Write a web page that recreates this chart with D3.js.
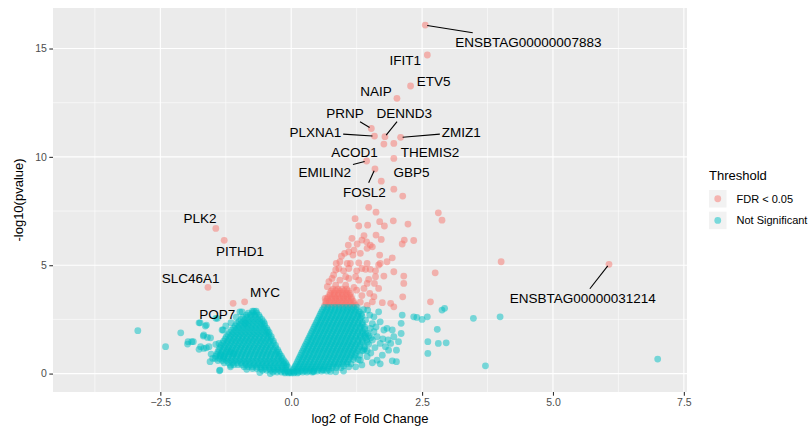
<!DOCTYPE html>
<html>
<head>
<meta charset="utf-8">
<script src="https://cdn.jsdelivr.net/npm/d3@7"></script>
<style>
  body { margin: 0; background: #fff; }
  svg { font-family: "Liberation Sans", Arial, sans-serif; }
</style>
</head>
<body>
<div id="chart"></div>
<script>
// ---- data (log2 fold change, -log10 p) ----
const xTicks = [-2.5, 0, 2.5, 5, 7.5];
const xMinor = [-3.75, -1.25, 1.25, 3.75, 6.25];
const yTicks = [0, 5, 10, 15];
const yMinor = [2.5, 7.5, 12.5];
const groups = ['FDR < 0.05', 'Not Significant'];

// named genes: [name, log2FC, -log10p, significant]
const genes = [
  ['ENSBTAG00000007883', 2.56, 16.08, true],
  ['IFIT1', 2.60, 14.70, true],
  ['ETV5', 2.28, 13.27, true],
  ['NAIP', 2.02, 12.70, true],
  ['PRNP', 1.53, 11.31, true],
  ['DENND3', 1.79, 10.93, true],
  ['PLXNA1', 1.59, 10.96, true],
  ['ZMIZ1', 2.09, 10.90, true],
  ['ACOD1', 1.77, 10.59, true],
  ['THEMIS2', 1.96, 10.62, true],
  ['EMILIN2', 1.44, 9.81, true],
  ['GBP5', 1.96, 9.93, true],
  ['FOSL2', 1.60, 9.44, true],
  ['PLK2', -1.44, 6.70, true],
  ['PITHD1', -1.28, 6.15, true],
  ['SLC46A1', -1.59, 3.98, true],
  ['MYC', -0.89, 3.31, true],
  ['POP7', -0.94, 2.85, false],
  ['ENSBTAG00000031214', 6.07, 5.04, true]
];

// where the repelled labels ended up (data units) and whether a segment is drawn
const labelPos = {
  'ENSBTAG00000007883': [4.53, 15.31, true],
  'IFIT1': [2.18, 14.47, false],
  'ETV5': [2.72, 13.51, false],
  'NAIP': [1.62, 13.05, false],
  'PRNP': [1.03, 12.04, true],
  'DENND3': [2.16, 12.04, true],
  'PLXNA1': [0.46, 11.13, true],
  'ZMIZ1': [3.25, 11.13, true],
  'ACOD1': [1.21, 10.24, false],
  'THEMIS2': [2.65, 10.24, false],
  'EMILIN2': [0.64, 9.31, true],
  'GBP5': [2.30, 9.31, false],
  'FOSL2': [1.40, 8.39, true],
  'PLK2': [-1.74, 7.16, false],
  'PITHD1': [-0.98, 5.65, false],
  'SLC46A1': [-1.92, 4.39, false],
  'MYC': [-0.50, 3.75, false],
  'POP7': [-1.41, 2.73, false],
  'ENSBTAG00000031214': [5.57, 3.50, true]
};

// significant genes, scattered part
const sigScatter = [
  [1.72,8.88],[1.96,8.51],[2.13,8.19],[1.48,7.67],[1.62,7.45],[2.81,7.42],[2.88,7.08],
  [1.22,7.15],[1.29,6.81],[1.46,6.85],[1.69,7.01],[1.78,6.81],[1.95,7.05],[2.23,6.90],
  [1.39,6.37],[1.62,6.39],[1.72,6.19],[1.44,6.08],[1.09,5.93],[1.20,5.70],[1.26,5.98],
  [1.55,5.85],[2.12,5.98],[2.16,6.16],[2.34,6.14],[1.16,6.24],[1.35,6.16],[1.02,5.55],
  [1.32,5.55],[1.69,5.47],[1.93,5.34],[1.83,5.16],[0.93,5.16],[1.13,5.08],[1.29,5.11],
  [1.45,5.08],[1.67,5.01],[1.51,5.93],[1.45,5.78],[1.10,5.62],[0.96,5.42],[1.18,5.47],
  [0.86,5.08],[1.07,5.08],[1.70,5.08],[0.85,4.78],[1.00,4.74],[1.25,4.74],[1.42,4.81],
  [1.61,4.74],[1.96,4.70],[1.77,4.50],[2.15,4.50],[2.75,4.65],[0.91,4.85],[1.10,4.85],
  [1.35,4.85],[1.51,4.81],[0.81,4.55],[1.04,4.47],[1.23,4.47],[1.61,4.47],[0.78,4.39],
  [0.93,4.31],[1.10,4.39],[1.29,4.31],[1.48,4.35],[1.59,4.16],[0.72,4.24],[1.45,4.16],
  [2.15,4.16],[0.69,4.01],[0.85,4.08],[1.04,4.08],[1.20,3.98],[1.39,3.93],[1.67,3.93],
  [2.13,3.54],[2.66,3.31],[1.90,3.24],[1.74,3.27],[1.55,3.31],[1.96,3.08],[0.65,3.47],
  [1.32,3.30],[1.45,3.15],[1.35,3.60],[1.50,3.70],[1.25,3.85],[1.58,3.55],[4.01,5.16],
  [-1.11,3.24]
];

// significant genes, dense block just above the cut: [y, [x...]]
const sigRows = [
  [3.15, [0.64,0.71,0.79,0.86,0.93,1.01,1.08,1.16,1.23]],
  [3.24, [0.67,0.75,0.83,0.90,0.98,1.05,1.13,1.20]],
  [3.33, [0.66,0.73,0.81,0.88,0.96,1.03,1.11,1.19]],
  [3.43, [0.69,0.77,0.85,0.92,1.00,1.07,1.15]],
  [3.52, [0.70,0.78,0.85,0.93,1.00,1.08,1.15]],
  [3.62, [0.74,0.82,0.89,0.97,1.04,1.11]],
  [3.71, [0.74,0.82,0.90,0.98,1.06,1.13]],
  [3.81, [0.77,0.85,0.93,1.01,1.09]],
  [3.90, [0.80,0.89,0.97,1.06]]
];

// non-significant genes, dense right lobe: [y, [x...]]
const nsRightRows = [
  [3.05, [0.63,0.70,0.77,0.84,0.91,0.98,1.05,1.12,1.19,1.26]],
  [2.95, [0.60,0.68,0.76,0.84,0.92,1.00,1.08,1.16,1.24]],
  [2.85, [0.58,0.66,0.74,0.82,0.90,0.98,1.06,1.14,1.22,1.30]],
  [2.75, [0.56,0.64,0.72,0.80,0.88,0.96,1.04,1.12,1.20,1.28,1.34]],
  [2.65, [0.54,0.62,0.70,0.78,0.86,0.94,1.02,1.10,1.18,1.27,1.35]],
  [2.55, [0.52,0.60,0.68,0.76,0.84,0.92,1.00,1.08,1.16,1.24,1.32]],
  [2.45, [0.50,0.58,0.66,0.74,0.82,0.90,0.98,1.06,1.14,1.22,1.31]],
  [2.35, [0.48,0.56,0.64,0.72,0.80,0.88,0.96,1.04,1.12,1.20,1.28,1.36]],
  [2.25, [0.46,0.54,0.62,0.70,0.78,0.86,0.94,1.02,1.10,1.18,1.27,1.36]],
  [2.15, [0.44,0.52,0.60,0.68,0.76,0.84,0.92,1.00,1.08,1.16,1.24,1.32,1.40]],
  [2.05, [0.42,0.50,0.58,0.66,0.74,0.82,0.90,0.98,1.06,1.14,1.22,1.31,1.40]],
  [1.95, [0.40,0.48,0.56,0.64,0.72,0.80,0.88,0.96,1.04,1.12,1.20,1.28,1.36]],
  [1.85, [0.38,0.46,0.54,0.62,0.70,0.78,0.86,0.94,1.02,1.10,1.18,1.27,1.36,1.46]],
  [1.75, [0.36,0.44,0.52,0.60,0.68,0.76,0.84,0.92,1.00,1.08,1.16,1.24,1.32,1.40,1.48]],
  [1.65, [0.34,0.42,0.50,0.58,0.66,0.74,0.82,0.90,0.98,1.06,1.14,1.23,1.32,1.42,1.52]],
  [1.55, [0.32,0.40,0.48,0.56,0.64,0.72,0.80,0.88,0.96,1.04,1.12,1.20,1.28,1.36,1.44]],
  [1.45, [0.30,0.38,0.46,0.54,0.62,0.70,0.78,0.86,0.94,1.02,1.10,1.18,1.27,1.36,1.45]],
  [1.35, [0.28,0.36,0.44,0.52,0.60,0.68,0.76,0.84,0.92,1.00,1.08,1.16,1.24,1.32]],
  [1.25, [0.26,0.34,0.42,0.50,0.58,0.66,0.74,0.82,0.90,0.98,1.06,1.14,1.22,1.31,1.40]],
  [1.15, [0.24,0.32,0.40,0.48,0.56,0.64,0.72,0.80,0.88,0.96,1.04,1.12,1.20,1.28,1.40]],
  [1.05, [0.22,0.30,0.38,0.46,0.54,0.62,0.70,0.78,0.86,0.94,1.02,1.10,1.18,1.27,1.36,1.45]],
  [0.95, [0.20,0.28,0.36,0.44,0.52,0.60,0.68,0.76,0.84,0.92,1.00,1.08,1.16,1.24]],
  [0.85, [0.18,0.26,0.34,0.42,0.50,0.58,0.66,0.74,0.82,0.90,0.98,1.06,1.14,1.22,1.31]],
  [0.75, [0.16,0.24,0.32,0.40,0.48,0.56,0.64,0.72,0.80,0.88,0.96,1.04,1.12,1.20]],
  [0.65, [0.14,0.22,0.30,0.38,0.46,0.54,0.62,0.70,0.78,0.86,0.94,1.02,1.10,1.19,1.28]],
  [0.55, [0.12,0.20,0.28,0.36,0.44,0.52,0.60,0.68,0.76,0.84,0.92,1.00,1.08]],
  [0.45, [0.10,0.18,0.26,0.34,0.42,0.50,0.58,0.66,0.74,0.82,0.90,0.98,1.06,1.14]],
  [0.36, [0.08,0.16,0.24,0.32,0.40,0.48,0.56,0.64,0.72,0.80,0.88,1.00]],
  [0.27, [0.06,0.14,0.22,0.30,0.38,0.46,0.54,0.62,0.70,0.78,0.86,0.95]],
  [0.19, [0.04,0.12,0.20,0.28,0.36,0.44,0.52,0.60,0.72]],
  [0.12, [0.03,0.10,0.18,0.26,0.34,0.42,0.50,0.58,0.68]],
  [0.07, [-0.02,0.06,0.14,0.22,0.30,0.40]],
  [0.03, [-0.12,-0.05,0.00,0.05,0.12]]
];

// non-significant genes, dense left lobe
const nsLeftRows = [
  [2.88, [-0.74,-0.67]],
  [2.79, [-0.82,-0.74,-0.66]],
  [2.70, [-0.86,-0.78,-0.70,-0.62]],
  [2.60, [-0.92,-0.84,-0.76,-0.68,-0.60]],
  [2.50, [-0.96,-0.88,-0.80,-0.72,-0.64,-0.56]],
  [2.40, [-1.00,-0.92,-0.84,-0.76,-0.68,-0.60,-0.53]],
  [2.30, [-1.04,-0.96,-0.88,-0.80,-0.72,-0.64,-0.56,-0.51]],
  [2.20, [-1.07,-0.99,-0.91,-0.83,-0.75,-0.67,-0.59,-0.51]],
  [2.10, [-1.10,-1.02,-0.94,-0.86,-0.78,-0.70,-0.62,-0.54,-0.47]],
  [2.00, [-1.14,-1.06,-0.98,-0.90,-0.82,-0.74,-0.66,-0.58,-0.50,-0.45]],
  [1.90, [-1.18,-1.10,-1.02,-0.94,-0.86,-0.78,-0.70,-0.62,-0.54,-0.46,-0.42]],
  [1.80, [-1.21,-1.13,-1.05,-0.97,-0.89,-0.81,-0.73,-0.65,-0.57,-0.49,-0.42]],
  [1.70, [-1.24,-1.16,-1.08,-1.00,-0.92,-0.84,-0.76,-0.68,-0.60,-0.52,-0.44,-0.38]],
  [1.60, [-1.26,-1.18,-1.10,-1.02,-0.94,-0.86,-0.78,-0.70,-0.62,-0.54,-0.46,-0.38]],
  [1.50, [-1.29,-1.21,-1.13,-1.05,-0.97,-0.89,-0.81,-0.73,-0.65,-0.57,-0.49,-0.41,-0.34]],
  [1.40, [-1.31,-1.23,-1.15,-1.07,-0.99,-0.91,-0.83,-0.75,-0.67,-0.59,-0.51,-0.43,-0.34]],
  [1.30, [-1.34,-1.26,-1.18,-1.10,-1.02,-0.94,-0.86,-0.78,-0.70,-0.62,-0.54,-0.46,-0.38,-0.30]],
  [1.20, [-1.36,-1.28,-1.20,-1.12,-1.04,-0.96,-0.88,-0.80,-0.72,-0.64,-0.56,-0.48,-0.40,-0.30]],
  [1.10, [-1.38,-1.30,-1.22,-1.14,-1.06,-0.98,-0.90,-0.82,-0.74,-0.66,-0.58,-0.50,-0.42,-0.34,-0.26]],
  [1.00, [-1.40,-1.32,-1.24,-1.16,-1.08,-1.00,-0.92,-0.84,-0.76,-0.68,-0.60,-0.52,-0.44,-0.36,-0.28,-0.24]],
  [0.90, [-1.42,-1.34,-1.26,-1.18,-1.10,-1.02,-0.94,-0.86,-0.78,-0.70,-0.62,-0.54,-0.46,-0.38,-0.30,-0.22]],
  [0.80, [-1.44,-1.36,-1.28,-1.20,-1.12,-1.04,-0.96,-0.88,-0.80,-0.72,-0.64,-0.56,-0.48,-0.40,-0.32,-0.24,-0.19]],
  [0.70, [-1.45,-1.37,-1.29,-1.21,-1.13,-1.05,-0.97,-0.89,-0.81,-0.73,-0.65,-0.57,-0.49,-0.41,-0.33,-0.25,-0.17]],
  [0.60, [-1.40,-1.32,-1.24,-1.16,-1.08,-1.00,-0.92,-0.84,-0.76,-0.68,-0.60,-0.52,-0.44,-0.36,-0.28,-0.20,-0.14]],
  [0.50, [-1.28,-1.20,-1.12,-1.04,-0.96,-0.88,-0.80,-0.72,-0.64,-0.56,-0.48,-0.40,-0.32,-0.24,-0.16,-0.11]],
  [0.41, [-1.10,-1.02,-0.94,-0.86,-0.78,-0.70,-0.62,-0.54,-0.46,-0.38,-0.30,-0.22,-0.14,-0.09]],
  [0.32, [-0.90,-0.82,-0.74,-0.66,-0.58,-0.50,-0.42,-0.34,-0.26,-0.18,-0.10,-0.07]],
  [0.23, [-0.74,-0.66,-0.58,-0.50,-0.42,-0.34,-0.26,-0.18,-0.11]],
  [0.15, [-0.55,-0.47,-0.39,-0.31,-0.23,-0.15,-0.08]],
  [0.07, [-0.35,-0.27,-0.19,-0.12,-0.06]]
];

// non-significant genes, scattered outliers
const nsScatter = [
  [2.12,2.70],[2.10,2.32],[2.10,1.85],[2.05,1.47],[2.34,2.62],[2.40,2.59],[2.50,2.50],
  [2.60,2.62],[2.88,2.93],[2.93,3.01],[2.79,2.04],[2.61,1.47],[2.81,1.39],[2.96,1.42],
  [2.61,0.93],[3.48,2.55],[3.99,2.62],[3.71,0.36],[7.00,0.67],[1.93,0.59],[2.01,0.55],
  [1.86,1.08],[1.90,1.39],[1.80,1.24],[1.70,1.39],[1.64,1.70],[1.77,2.01],[1.83,2.09],
  [1.93,2.01],[1.70,2.39],[1.58,2.62],[1.67,2.85],[1.46,2.93],[1.42,2.47],[1.51,2.09],
  [1.42,1.85],[1.58,1.93],[1.39,1.08],[1.45,0.78],[1.64,0.62],[1.74,0.85],[1.32,0.62],
  [1.23,0.31],[0.85,0.08],[0.43,0.08],[0.62,0.16],[1.10,0.31],[2.01,1.08],[1.96,1.70],
  [1.55,1.55],[1.60,1.20],[1.52,0.95],[1.48,1.35],[1.85,1.55],[1.75,1.60],[1.55,2.30],
  [1.62,2.15],[1.50,2.70],[1.38,2.95],[1.70,0.45],[1.55,0.50],[1.35,0.40],[1.00,0.12],
  [0.75,0.10],
  [-2.93,1.98],[-2.40,1.24],[-2.11,1.88],[-1.98,1.36],[-1.90,1.47],[-1.76,2.34],
  [-1.64,2.19],[-1.68,1.73],[-1.60,1.67],[-1.76,1.12],[-1.67,1.16],[-1.57,1.24],
  [-1.53,0.90],[-1.38,1.39],[-1.32,2.01],[-1.41,2.55],[-1.37,0.13],[-1.16,0.31],
  [-1.10,0.93],[-0.98,2.85],[-0.87,2.32],[-0.71,2.88],[-1.29,0.78],[-1.74,2.34],
  [-1.62,2.24],[-1.44,2.55],[-1.30,2.01],[-1.97,1.47],[-1.87,1.47],[-1.67,1.78],
  [-1.54,1.65],[-1.73,1.24],[-1.62,1.19],[-1.44,1.35],[-1.35,0.85],[-1.19,1.01],
  [-1.36,0.16],[-1.16,0.39],[-1.05,2.60],[-1.15,2.35],[-1.25,2.20],[-1.50,0.70],
  [-1.55,0.55],[-0.85,0.20],[-0.60,0.05],[-0.40,0.00]
];

class VolcanoPlot {
  constructor() {
    this.width = 811;
    this.height = 429;
    this.panel = { left: 53, top: 8, right: 687, bottom: 392 };
    this.colors = { 'FDR < 0.05': '#F8766D', 'Not Significant': '#00BFC4' };
    this.r = 3.4;

    this.x = d3.scaleLinear().domain([-4.55, 7.56]).range([this.panel.left, this.panel.right]);
    this.y = d3.scaleLinear().domain([-0.85, 16.87]).range([this.panel.bottom, this.panel.top]);

    this.draw();
  }

  buildPoints() {
    const pts = [];
    const fromRows = (rows, grp) => rows.forEach(([yv, xs]) => xs.forEach(xv => pts.push({ x: xv, y: yv, g: grp })));
    sigScatter.forEach(d => pts.push({ x: d[0], y: d[1], g: groups[0] }));
    fromRows(sigRows, groups[0]);
    fromRows(nsRightRows, groups[1]);
    fromRows(nsLeftRows, groups[1]);
    nsScatter.forEach(d => pts.push({ x: d[0], y: d[1], g: groups[1] }));
    genes.forEach(d => pts.push({ x: d[1], y: d[2], g: d[3] ? groups[0] : groups[1] }));
    return pts;
  }

  draw() {
    const { x, y, panel } = this;
    const svg = d3.select('#chart').append('svg')
      .attr('width', this.width)
      .attr('height', this.height);

    svg.append('rect')
      .attr('x', panel.left).attr('y', panel.top)
      .attr('width', panel.right - panel.left).attr('height', panel.bottom - panel.top)
      .attr('fill', '#EBEBEB');

    // grid
    const grid = svg.append('g');
    grid.selectAll('.vminor').data(xMinor).join('line')
      .attr('x1', d => x(d)).attr('x2', d => x(d)).attr('y1', panel.top).attr('y2', panel.bottom)
      .attr('stroke', '#fff').attr('stroke-width', 0.55);
    grid.selectAll('.hminor').data(yMinor).join('line')
      .attr('y1', d => y(d)).attr('y2', d => y(d)).attr('x1', panel.left).attr('x2', panel.right)
      .attr('stroke', '#fff').attr('stroke-width', 0.55);
    grid.selectAll('.vmajor').data(xTicks).join('line')
      .attr('x1', d => x(d)).attr('x2', d => x(d)).attr('y1', panel.top).attr('y2', panel.bottom)
      .attr('stroke', '#fff').attr('stroke-width', 1.1);
    grid.selectAll('.hmajor').data(yTicks).join('line')
      .attr('y1', d => y(d)).attr('y2', d => y(d)).attr('x1', panel.left).attr('x2', panel.right)
      .attr('stroke', '#fff').attr('stroke-width', 1.1);

    // points
    svg.append('g').selectAll('circle').data(this.buildPoints()).join('circle')
      .attr('cx', d => x(d.x)).attr('cy', d => y(d.y)).attr('r', this.r)
      .attr('fill', d => this.colors[d.g]).attr('fill-opacity', 0.5);

    // axes
    const xAxis = svg.append('g')
      .attr('transform', `translate(0,${panel.bottom})`)
      .call(d3.axisBottom(x).tickValues(xTicks).tickFormat(d3.format('.1f')).tickSize(3.7).tickPadding(2.5));
    const yAxis = svg.append('g')
      .attr('transform', `translate(${panel.left},0)`)
      .call(d3.axisLeft(y).tickValues(yTicks).tickSize(3.7).tickPadding(2.5));
    [xAxis, yAxis].forEach(a => {
      a.select('.domain').remove();
      a.selectAll('line').attr('stroke', '#333').attr('stroke-width', 1.1);
      a.selectAll('text').attr('fill', '#4D4D4D').attr('font-size', '10.5px')
        .attr('font-family', '"Liberation Sans", Arial, sans-serif');
    });

    svg.append('text')
      .attr('x', (panel.left + panel.right) / 2).attr('y', 423)
      .attr('text-anchor', 'middle').attr('font-size', '13px')
      .text('log2 of Fold Change');
    svg.append('text')
      .attr('transform', `translate(23,${(panel.top + panel.bottom) / 2}) rotate(-90)`)
      .attr('text-anchor', 'middle').attr('font-size', '13px')
      .text('-log10(pvalue)');

    this.drawLabels(svg);
    this.drawLegend(svg);
  }

  drawLabels(svg) {
    const { x, y } = this;
    const g = svg.append('g');
    genes.forEach(d => {
      const [lx, ly, seg] = labelPos[d[0]];
      const t = g.append('text')
        .attr('x', x(lx)).attr('y', y(ly)).attr('dy', '0.36em')
        .attr('text-anchor', 'middle').attr('font-size', '13.5px').attr('fill', '#000')
        .text(d[0]);
      if (!seg) return;
      const b = t.node().getBBox();
      const pad = 2;
      const cx = x(lx), cy = y(ly);
      const px = x(d[1]), py = y(d[2]);
      const dx = px - cx, dy = py - cy;
      const hw = b.width / 2 + pad, hh = 7 + pad;
      const k = Math.min(Math.abs(hw / (dx || 1e-6)), Math.abs(hh / (dy || 1e-6)));
      const sx = cx + dx * k, sy = cy + dy * k;
      const len = Math.hypot(px - sx, py - sy);
      const shrink = Math.max(0, (len - 2) / len);
      g.append('line')
        .attr('x1', sx).attr('y1', sy)
        .attr('x2', sx + (px - sx) * shrink).attr('y2', sy + (py - sy) * shrink)
        .attr('stroke', '#000').attr('stroke-width', 1.1);
    });
  }

  drawLegend(svg) {
    const lg = svg.append('g').attr('transform', 'translate(709,0)');
    lg.append('text').attr('x', 0).attr('y', 180).attr('font-size', '13px').text('Threshold');
    const keyH = 21.7;
    groups.forEach((grp, i) => {
      const top = 190 + i * keyH;
      lg.append('rect').attr('x', 0).attr('y', top).attr('width', 17.5).attr('height', 17.5)
        .attr('fill', '#F2F2F2');
      lg.append('circle').attr('cx', 8.75).attr('cy', top + 8.75).attr('r', this.r)
        .attr('fill', this.colors[grp]).attr('fill-opacity', 0.5);
      lg.append('text').attr('x', 27.5).attr('y', top + 8.75).attr('dy', '0.36em')
        .attr('font-size', '11px').text(grp);
    });
  }
}

document.addEventListener('DOMContentLoaded', () => {
  new VolcanoPlot();
});
</script>
</body>
</html>
